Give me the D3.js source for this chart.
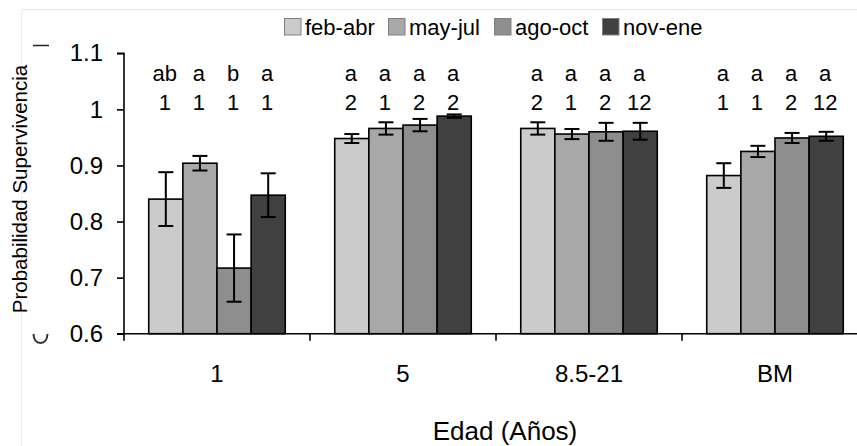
<!DOCTYPE html>
<html>
<head>
<meta charset="utf-8">
<script src="https://cdn.jsdelivr.net/npm/d3@7"></script>
<style>
  html, body { margin: 0; padding: 0; background: #fff; }
  svg text { font-family: "Liberation Sans", Arial, sans-serif; fill: #000; }
</style>
</head>
<body>
<svg id="chart" width="857" height="446"></svg>
<script>
// Age classes and seasons
const categories = ["1", "5", "8.5-21", "BM"];
const seasons = ["feb-abr", "may-jul", "ago-oct", "nov-ene"];

// Survival probability per season (one array per season, ordered as categories)
const febAbr = [0.840, 0.948, 0.966, 0.882];
const mayJul = [0.904, 0.966, 0.956, 0.925];
const agoOct = [0.717, 0.972, 0.960, 0.949];
const novEne = [0.847, 0.988, 0.961, 0.952];

// Error (half-width) per season
const errFebAbr = [0.048, 0.008, 0.011, 0.022];
const errMayJul = [0.013, 0.011, 0.009, 0.010];
const errAgoOct = [0.060, 0.011, 0.016, 0.009];
const errNovEne = [0.039, 0.003, 0.015, 0.008];

// Significance letters (between seasons) and numbers (between ages)
const letters = [
  ["ab", "a", "b", "a"],
  ["a", "a", "a", "a"],
  ["a", "a", "a", "a"],
  ["a", "a", "a", "a"]
];
const groupsNum = [
  ["1", "1", "1", "1"],
  ["2", "1", "2", "2"],
  ["2", "1", "2", "12"],
  ["1", "1", "2", "12"]
];

const yTicks = [0.6, 0.7, 0.8, 0.9, 1, 1.1];
const colors = ["#cbcbcb", "#a8a8a8", "#8e8e8e", "#404040"];

const seriesValues = [febAbr, mayJul, agoOct, novEne];
const seriesErrors = [errFebAbr, errMayJul, errAgoOct, errNovEne];

const rows = [];
categories.forEach((c, ci) => {
  seasons.forEach((s, si) => {
    rows.push({
      cat: c, season: s, si, ci,
      value: seriesValues[si][ci],
      err: seriesErrors[si][ci],
      letter: letters[ci][si],
      num: groupsNum[ci][si]
    });
  });
});

const svg = d3.select("#chart");

// faint frame of the chart area
svg.append("line").attr("x1", 22).attr("x2", 857).attr("y1", 9.5).attr("y2", 9.5)
  .attr("stroke", "#e6e6e6").attr("stroke-width", 1);
svg.append("line").attr("x1", 21.5).attr("x2", 21.5).attr("y1", 9.5).attr("y2", 446)
  .attr("stroke", "#ececec").attr("stroke-width", 1);

const x0 = d3.scaleBand().domain(categories).range([124, 868]).padding(0);
const bw = x0.bandwidth();
const x1 = d3.scaleBand().domain(seasons).range([bw * 0.133, bw * 0.867]).padding(0);
const y = d3.scaleLinear().domain([0.6, 1.1]).range([333.7, 53.3]);

const color = d3.scaleOrdinal().domain(seasons).range(colors);

// bars
const g = svg.append("g");
g.selectAll("rect.bar").data(rows).join("rect")
  .attr("class", "bar")
  .attr("x", d => x0(d.cat) + x1(d.season))
  .attr("width", x1.bandwidth())
  .attr("y", d => y(d.value))
  .attr("height", d => y(0.6) - y(d.value))
  .attr("fill", d => color(d.season))
  .attr("stroke", "#000")
  .attr("stroke-width", 1.6);

// error bars
const cx = d => x0(d.cat) + x1(d.season) + x1.bandwidth() / 2;
const eb = g.append("g").attr("stroke", "#000").attr("stroke-width", 2);
eb.selectAll("line.v").data(rows).join("line")
  .attr("x1", cx).attr("x2", cx)
  .attr("y1", d => y(d.value + d.err)).attr("y2", d => y(d.value - d.err));
eb.selectAll("line.t").data(rows).join("line")
  .attr("x1", d => cx(d) - 7.5).attr("x2", d => cx(d) + 7.5)
  .attr("y1", d => y(d.value + d.err)).attr("y2", d => y(d.value + d.err));
eb.selectAll("line.b").data(rows).join("line")
  .attr("x1", d => cx(d) - 7.5).attr("x2", d => cx(d) + 7.5)
  .attr("y1", d => y(d.value - d.err)).attr("y2", d => y(d.value - d.err));

// significance labels
g.selectAll("text.letter").data(rows).join("text")
  .attr("x", d => cx(d) - 1).attr("y", 81)
  .attr("text-anchor", "middle").attr("font-size", 22)
  .text(d => d.letter);
g.selectAll("text.num").data(rows).join("text")
  .attr("x", d => cx(d) - 1).attr("y", 110)
  .attr("text-anchor", "middle").attr("font-size", 22)
  .text(d => d.num);

// y axis
const yAxis = d3.axisLeft(y).tickValues(yTicks).tickSize(7).tickPadding(14)
  .tickFormat(d => d3.format("")(d));
const ya = svg.append("g").attr("transform", "translate(124,0)").call(yAxis);
ya.select(".domain").attr("stroke-width", 1.6).attr("d", `M-7,${y(1.1)}H0V${y(0.6)}`);
ya.selectAll(".tick line").attr("stroke-width", 1.6);
ya.selectAll(".tick text").attr("font-size", 24)
  .style("font-family", "'Liberation Sans', Arial, sans-serif");

// x axis: ticks sit on group boundaries
const xa = svg.append("g").attr("transform", `translate(0,${y(0.6)})`);
xa.append("line").attr("x1", 117).attr("x2", 868).attr("y1", 0).attr("y2", 0)
  .attr("stroke", "#000").attr("stroke-width", 1.6);
const bounds = categories.map(c => x0(c)).concat([x0(categories[categories.length - 1]) + bw]);
xa.selectAll("line.tk").data(bounds).join("line")
  .attr("x1", d => d).attr("x2", d => d).attr("y1", 0).attr("y2", 7)
  .attr("stroke", "#000").attr("stroke-width", 1.6);
xa.selectAll("text.cat").data(categories).join("text")
  .attr("x", d => x0(d) + bw / 2).attr("y", 48)
  .attr("text-anchor", "middle").attr("font-size", 24)
  .text(d => d);

// axis titles
svg.append("text")
  .attr("transform", "translate(27,189) rotate(-90)")
  .attr("text-anchor", "middle").attr("font-size", 20.5)
  .text("Probabilidad Supervivencia");
svg.append("text")
  .attr("x", 505).attr("y", 440)
  .attr("text-anchor", "middle").attr("font-size", 26)
  .text("Edad (Años)");

// small marks left of the axis title
svg.append("line").attr("x1", 33).attr("x2", 49).attr("y1", 45.5).attr("y2", 45.5)
  .attr("stroke", "#222").attr("stroke-width", 1.5);
svg.append("path")
  .attr("d", "M33.5,334 Q34,343 40.5,343 Q47,343 47.5,334")
  .attr("fill", "none").attr("stroke", "#333").attr("stroke-width", 2);

// legend
const legendX = [284, 388, 494, 602];
const lg = svg.append("g");
const items = lg.selectAll("g.item").data(seasons).join("g")
  .attr("transform", (d, i) => `translate(${legendX[i]},0)`);
items.append("rect").attr("x", 0.5).attr("y", 18.5).attr("width", 16.5).attr("height", 16.5)
  .attr("fill", d => color(d)).attr("stroke", "#808080").attr("stroke-width", 1);
items.append("text").attr("x", 21).attr("y", 35).attr("font-size", 22)
  .text(d => d);
</script>
</body>
</html>
